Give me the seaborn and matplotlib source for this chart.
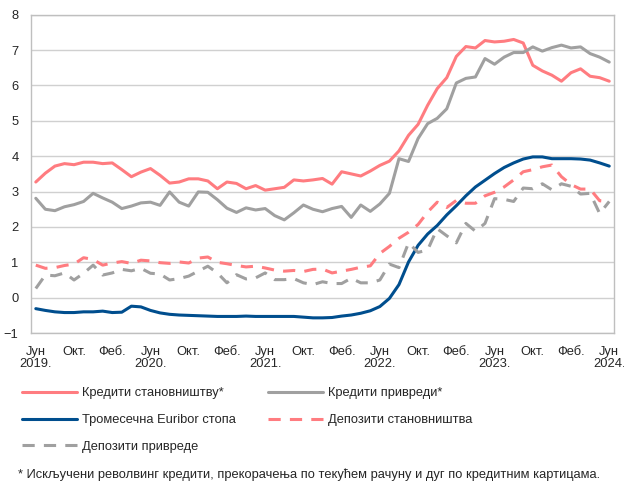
import numpy as np
import pandas as pd
import matplotlib
matplotlib.use("Agg")
import matplotlib.pyplot as plt
import seaborn as sns

# месечне вредности, јун 2019. - јун 2024.
kred_stan = [3.27, 3.52, 3.72, 3.79, 3.76, 3.83, 3.83, 3.79, 3.81, 3.62,
             3.42, 3.55, 3.65, 3.46, 3.24, 3.27, 3.36, 3.36, 3.30, 3.08,
             3.27, 3.23, 3.08, 3.17, 3.04, 3.08, 3.12, 3.33, 3.30, 3.33,
             3.37, 3.21, 3.56, 3.50, 3.44, 3.58, 3.74, 3.86, 4.15, 4.59,
             4.90, 5.44, 5.91, 6.22, 6.82, 7.10, 7.06, 7.27, 7.23, 7.25,
             7.30, 7.20, 6.57, 6.41, 6.29, 6.12, 6.36, 6.47, 6.26, 6.22, 6.12]
kred_priv = [2.81, 2.50, 2.46, 2.57, 2.63, 2.72, 2.95, 2.82, 2.70, 2.52,
             2.59, 2.68, 2.70, 2.61, 2.99, 2.70, 2.59, 2.99, 2.98, 2.77,
             2.53, 2.41, 2.54, 2.48, 2.52, 2.32, 2.20, 2.40, 2.62, 2.50,
             2.43, 2.52, 2.58, 2.27, 2.62, 2.44, 2.65, 2.95, 3.93, 3.85,
             4.50, 4.92, 5.07, 5.34, 6.07, 6.20, 6.24, 6.76, 6.60, 6.80,
             6.93, 6.93, 7.09, 6.97, 7.07, 7.14, 7.06, 7.09, 6.90, 6.80, 6.66]
euribor = [-0.31, -0.36, -0.40, -0.42, -0.42, -0.40, -0.40, -0.38, -0.42, -0.41,
           -0.24, -0.26, -0.36, -0.43, -0.47, -0.49, -0.50, -0.51, -0.52, -0.53,
           -0.53, -0.53, -0.52, -0.53, -0.53, -0.53, -0.53, -0.53, -0.55, -0.57,
           -0.57, -0.56, -0.52, -0.49, -0.44, -0.37, -0.25, -0.02, 0.37, 1.01,
           1.48, 1.80, 2.04, 2.34, 2.60, 2.88, 3.13, 3.32, 3.51, 3.68,
           3.81, 3.92, 3.98, 3.98, 3.93, 3.93, 3.93, 3.92, 3.89, 3.81, 3.72]
dep_stan = [0.92, 0.83, 0.85, 0.91, 0.95, 1.13, 1.08, 0.92, 0.98, 1.02,
            0.97, 1.06, 1.04, 0.99, 0.97, 1.01, 0.98, 1.12, 1.15, 1.00,
            0.96, 0.91, 0.87, 0.89, 0.84, 0.78, 0.75, 0.77, 0.74, 0.80,
            0.81, 0.70, 0.75, 0.80, 0.86, 0.90, 1.25, 1.45, 1.68, 1.85,
            2.07, 2.42, 2.70, 2.55, 2.75, 2.67, 2.67, 2.88, 2.98, 3.13,
            3.33, 3.56, 3.62, 3.70, 3.75, 3.42, 3.20, 3.07, 3.07, 2.74, 2.71]
dep_priv = [0.26, 0.64, 0.62, 0.70, 0.50, 0.69, 0.92, 0.64, 0.70, 0.80,
            0.76, 0.83, 0.69, 0.67, 0.50, 0.54, 0.61, 0.75, 0.89, 0.70,
            0.42, 0.65, 0.53, 0.56, 0.70, 0.51, 0.51, 0.54, 0.42, 0.37,
            0.45, 0.40, 0.40, 0.55, 0.42, 0.42, 0.50, 0.95, 0.85, 1.55,
            1.28, 1.35, 1.95, 1.75, 1.55, 2.10, 1.88, 2.10, 2.80, 2.78,
            2.72, 3.10, 3.08, 3.22, 3.05, 3.22, 3.15, 2.93, 2.95, 2.38, 2.72]

tick_labels = ["Јун\n2019.", "Окт.", "Феб.", "Јун\n2020.", "Окт.", "Феб.",
               "Јун\n2021.", "Окт.", "Феб.", "Јун\n2022.", "Окт.", "Феб.",
               "Јун\n2023.", "Окт.", "Феб.", "Јун\n2024."]

names = ["Кредити становништву*", "Кредити привреди*", "Тромесечна Euribor стопа",
         "Депозити становништва", "Депозити привреде"]
colors = ["#ff7c80", "#a0a0a0", "#004e8e", "#ff7c80", "#a0a0a0"]
dashed = [False, False, False, True, True]

sns.set_style("white")
plt.rcParams["font.family"] = ["Liberation Sans", "DejaVu Sans"]

fig = plt.figure(figsize=(6.24, 4.82), dpi=100)
ax = fig.add_axes([0.0497, 0.309, 0.9343, 0.6605])

x = np.arange(len(kred_stan))
for vals, name, col, dsh in zip([kred_stan, kred_priv, euribor, dep_stan, dep_priv],
                                names, colors, dashed):
    sns.lineplot(x=x, y=vals, ax=ax, color=col, lw=2.2, label=name,
                 linestyle="--" if dsh else "-")
    if dsh:
        ax.lines[-1].set_dashes((4, 3))

ax.set_xlim(-0.5, len(x) - 0.5)
ax.set_ylim(-1, 8)
ax.set_yticks(range(-1, 9))
ax.yaxis.grid(True, color="#d0d0d0", lw=1)
ax.set_axisbelow(True)
for s in ax.spines.values():
    s.set_color("#bfbfbf")
    s.set_linewidth(1)

ax.set_xticks(np.arange(3.5, len(x) - 0.5, 4))
ax.set_xticklabels([])
ax.set_xticks(np.arange(0, len(x), 4), minor=True)
ax.set_xticklabels(tick_labels, minor=True)
ax.tick_params(axis="x", which="major", length=4, color="#bfbfbf", direction="out")
ax.tick_params(axis="x", which="minor", length=0, labelsize=9.3, pad=9)
ax.tick_params(axis="y", length=0, labelsize=9.3, pad=9)
for t in ax.get_xticklabels(minor=True):
    t.set_linespacing(1.1)

h, l = ax.get_legend_handles_labels()
ax.get_legend().remove()
order = [0, 2, 4, 1, 3]
fig.legend([h[i] for i in order], [l[i] for i in order], ncol=2,
           loc="upper left", bbox_to_anchor=(0.0266, 0.207), frameon=False,
           fontsize=9.25, handlelength=4.28, handletextpad=0.4,
           columnspacing=2.5, labelspacing=1.15, borderaxespad=0)

fig.text(0.029, 0.0145, "* Искључени револвинг кредити, прекорачења по текућем рачуну и дуг по кредитним картицама.",
         fontsize=9.3, ha="left", va="center")

fig.savefig("out.png", dpi=100)
